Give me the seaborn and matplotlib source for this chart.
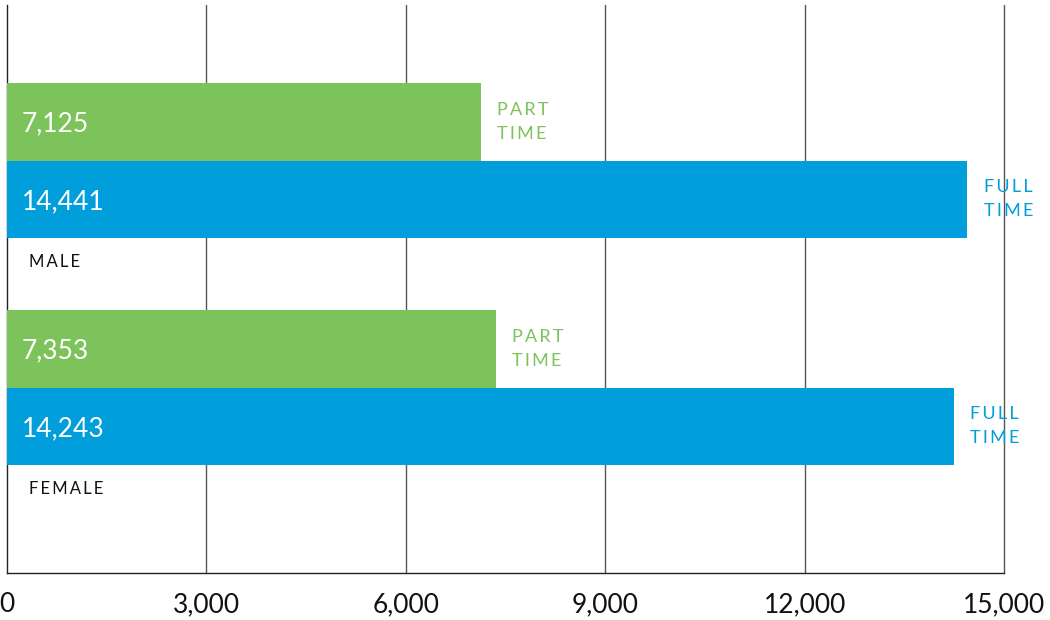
import matplotlib
matplotlib.use("Agg")
import matplotlib.pyplot as plt
import seaborn as sns
import pandas as pd

genders = ["MALE", "MALE", "FEMALE", "FEMALE"]
work_types = ["PART\nTIME", "FULL\nTIME", "PART\nTIME", "FULL\nTIME"]
values = [7125, 14441, 7353, 14243]
value_labels = ["7,125", "14,441", "7,353", "14,243"]
tick_values = [0, 3000, 6000, 9000, 12000, 15000]
tick_labels = ["0", "3,000", "6,000", "9,000", "12,000", "15,000"]

GREEN = "#7DC35B"
BLUE = "#009EDB"
palette = {"PART\nTIME": GREEN, "FULL\nTIME": BLUE}

df = pd.DataFrame({"gender": genders, "type": work_types, "value": values})

sns.set_theme(style="white")
plt.rcParams["font.family"] = ["Lato", "DejaVu Sans"]


def spaced(s, sep="\u2009"):
    """Widen letter spacing by inserting thin spaces between characters."""
    return "\n".join(sep.join(line) for line in s.split("\n"))


fig = plt.figure(figsize=(10.5, 6.2), dpi=100)
ax = fig.add_axes([7 / 1050, 47 / 620, 997 / 1050, 568 / 620])

sns.barplot(data=df, y="gender", x="value", hue="type", orient="h",
            palette=palette, width=0.683, dodge=True, ax=ax,
            legend=False, saturation=1, errorbar=None, linewidth=0,
            zorder=3)

ax.set_xlim(0, 15000)
ax.set_ylim(1.817, -0.685)

# vertical grid
for t in tick_values[1:]:
    ax.axvline(t, color="#555555", lw=1.0, zorder=1, clip_on=False)

ax.set_xticks(tick_values)
ax.set_xticklabels(tick_labels, fontsize=19, color="#111111")
ax.tick_params(axis="x", length=0, pad=14)
ax.set_yticks([])
ax.set_xlabel("")
ax.set_ylabel("")

for s in ["top", "right"]:
    ax.spines[s].set_visible(False)
for s in ["left", "bottom"]:
    ax.spines[s].set_color("#222222")
    ax.spines[s].set_linewidth(1.0)

# bar labels
order = ["MALE", "FEMALE"]
bar_h = 0.683 / 2
for g, wt, v, lab in zip(genders, work_types, values, value_labels):
    gi = order.index(g)
    off = -bar_h / 2 if wt.startswith("PART") else bar_h / 2
    yc = gi + off
    ax.text(220, yc + 0.01, lab, color="white", fontsize=19, va="center", ha="left", zorder=5)
    col = GREEN if wt.startswith("PART") else BLUE
    ax.annotate(spaced(wt), xy=(v, yc), xytext=(12, 0), textcoords="offset points",
                color=col, fontsize=13, va="center", ha="left", linespacing=1.6, zorder=5)

for gi, g in enumerate(order):
    ax.text(330, gi + 0.445, spaced(g), color="#111111", fontsize=12, va="center",
            ha="left", zorder=5)

fig.savefig("out.png", dpi=100)
